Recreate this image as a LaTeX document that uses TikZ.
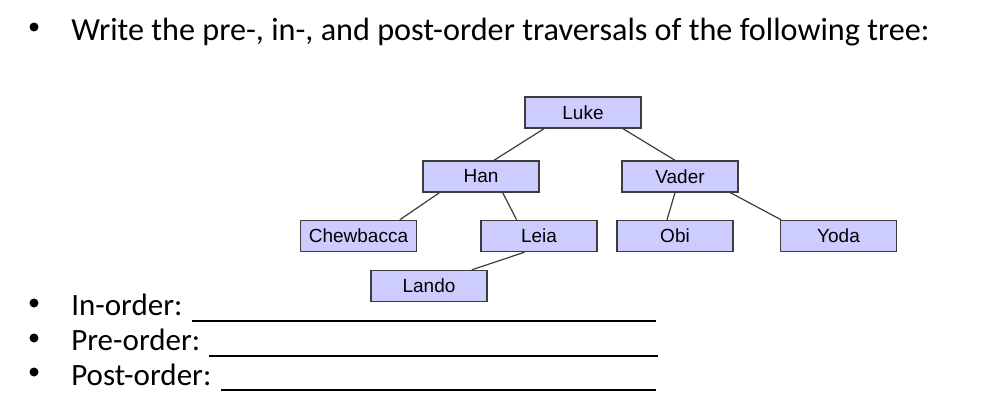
\documentclass[tikz,border=0pt]{standalone}
\usepackage{fontspec}
\setmainfont{Carlito}
\newfontfamily\treefont{Liberation Sans}
\usetikzlibrary{positioning}
\definecolor{clav}{HTML}{CCCCFF}
\definecolor{cedge}{HTML}{3C3C3C}
\tikzset{
  every picture/.style={line width=1.2pt},
  treebox/.style={draw=cedge, fill=clav, line width=1.4pt, minimum width=116pt, minimum height=31pt, inner sep=0pt, font=\treefont\fontsize{19}{21}\selectfont},
  edge/.style={draw=cedge, line width=1.2pt},
  bul/.style={circle, fill=black, inner sep=0pt, minimum size=9pt},
  item/.style={anchor=base west, inner sep=0pt, font=\fontsize{31}{36}\selectfont},
  blank/.style={line width=2pt},
}

\begin{document}
\begin{tikzpicture}[x=1pt, y=-1pt]
  \useasboundingbox (0,0) rectangle (983,413);
  % question
  \node[bul] (b0) at (34,27) {};
  \node[item, font=\fontsize{32.2}{36}\selectfont] (title) at (70.7,40) {Write the pre-, in-, and post-order traversals of the following tree:};
  % the tree
  \node[treebox] (luke) at (583,112.5) {Luke};
  \node[treebox] (han) at (481,176.5) {Han};
  \node[treebox] (vader) at (680,176.5) {Vader};
  \node[treebox] (chew) at (358.5,236) {Chewbacca};
  \node[treebox] (leia) at (539,236) {Leia};
  \node[treebox] (obi) at (675,236) {Obi};
  \node[treebox] (yoda) at (838.5,236) {Yoda};
  \node[treebox] (lando) at (429,286) {Lando};
  \draw[edge] ([xshift=-39pt]luke.south) -- ([xshift=13pt]han.north);
  \draw[edge] ([xshift=40pt]luke.south) -- ([xshift=-5pt]vader.north);
  \draw[edge] ([xshift=-41.6pt]han.south) -- ([xshift=41.3pt]chew.north);
  \draw[edge] ([xshift=21.7pt]han.south) -- ([xshift=-22.4pt]leia.north);
  \draw[edge] ([xshift=-5pt]vader.south) -- ([xshift=-8pt]obi.north);
  \draw[edge] ([xshift=50.4pt]vader.south) -- ([xshift=-57.4pt]yoda.north);
  \draw[edge] ([xshift=-14.5pt]leia.south) -- ([xshift=42.8pt]lando.north);
  % answers
  \node[bul] (b1) at (34,303) {};
  \node[bul] (b2) at (34,338) {};
  \node[bul] (b3) at (34,372) {};
  \node[item] (inord) at (70.7,315) {In-order:};
  \node[item] (preord) at (70.7,350) {Pre-order:};
  \node[item] (postord) at (70.7,385) {Post-order:};
  \coordinate (inend) at (656,320.5);
  \coordinate (preend) at (658,355.5);
  \coordinate (postend) at (656,389.5);
  \draw[blank] ([xshift=9pt,yshift=-5.5pt]inord.base east) -- (inend);
  \draw[blank] ([xshift=8pt,yshift=-5.5pt]preord.base east) -- (preend);
  \draw[blank] ([xshift=9pt,yshift=-4.5pt]postord.base east) -- (postend);
\end{tikzpicture}
\end{document}
